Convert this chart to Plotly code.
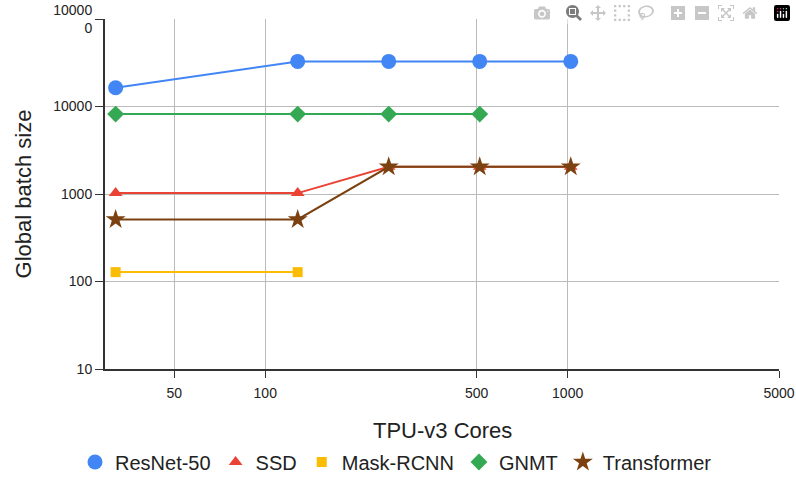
import plotly.graph_objects as go

#---DATA---
cores = [32, 128, 256, 512, 1024]
resnet50 = [16384, 32768, 32768, 32768, 32768]
ssd = [1024, 1024, 2048, 2048, 2048]
mask_rcnn = [128, 128]
gnmt = [8192, 8192, 8192, 8192]
transformer = [512, 512, 2048, 2048, 2048]

x_ticks = [50, 100, 500, 1000, 5000]
y_ticks = [10, 100, 1000, 10000, 100000]
y_tick_text = ['10', '100', '1000', '10000', '10000<br>0']

#---PLOT---
fig = go.Figure()
series = [
    ('ResNet-50', cores, resnet50, '#4285F4', 'circle', 15),
    ('SSD', cores, ssd, '#EA4335', 'triangle-up', 12),
    ('Mask-RCNN', cores[:2], mask_rcnn, '#FBBC04', 'square', 10),
    ('GNMT', cores[:4], gnmt, '#34A853', 'diamond', 13),
    ('Transformer', cores, transformer, '#7B4110', 'star', 15),
]
for name, xs, ys, color, symbol, size in series:
    # line without legend entry, then markers that carry the legend symbol
    fig.add_trace(go.Scatter(
        x=xs, y=ys, name=name, mode='lines', showlegend=False,
        line=dict(color=color, width=2), hoverinfo='skip'))
    fig.add_trace(go.Scatter(
        x=xs, y=ys, name=name, mode='markers',
        marker=dict(color=color, symbol=symbol, size=size, line=dict(width=0))))

#---STYLE---
fig.update_layout(
    width=796, height=479,
    font=dict(family='Arial', color='#222'),
    plot_bgcolor='white', paper_bgcolor='white',
    margin=dict(l=105, r=17, t=19, b=110),
    legend=dict(orientation='h', xref='container', yref='container',
                x=0.4975, xanchor='center', y=0.0355, yanchor='middle',
                font=dict(size=20), itemwidth=30, tracegroupgap=0),
)

fig.update_xaxes(
    type='log', range=[1.47, 3.69897], automargin=False,
    tickvals=x_ticks, ticktext=[str(v) for v in x_ticks],
    tickfont=dict(size=14), ticklabeloverflow='allow',
    showgrid=True, gridcolor='#bbb', gridwidth=1,
    showline=True, linecolor='#333', linewidth=2,
    ticks='outside', ticklen=7, tickcolor='#333', ticklabelstandoff=3,
    zeroline=False)

fig.update_yaxes(
    type='log', range=[1, 5], automargin=False,
    tickvals=y_ticks, ticktext=y_tick_text,
    tickfont=dict(size=14), ticklabeloverflow='allow',
    showgrid=True, gridcolor='#bbb', gridwidth=1,
    showline=True, linecolor='#333', linewidth=2,
    ticks='outside', ticklen=8, tickcolor='#333',
    title=dict(text='Global batch size', font=dict(size=22), standoff=16),
    zeroline=False)

#x axis title placed directly under the plot
fig.add_annotation(
    xref='paper', yref='paper', x=0.5, y=-0.177,
    xanchor='center', yanchor='middle',
    text='TPU-v3 Cores', font=dict(size=22), showarrow=False)

#drop the default page margin so the figure fills the window
fig.write_html("out.html", post_script="document.body.style.margin='0';")
